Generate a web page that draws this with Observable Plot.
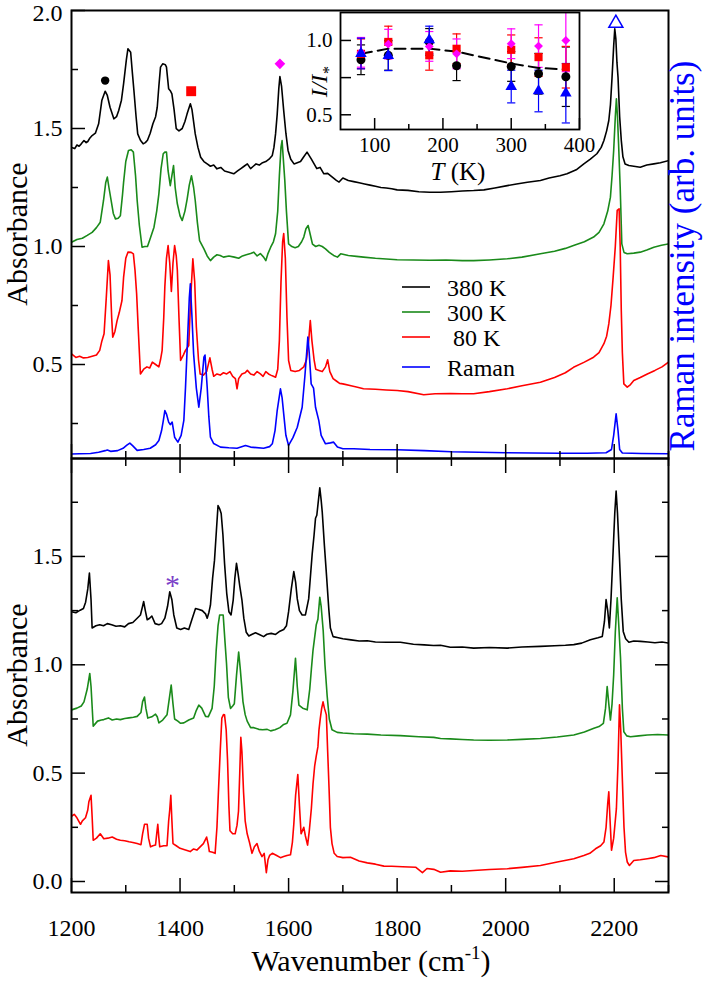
<!DOCTYPE html>
<html><head><meta charset="utf-8">
<script src="https://cdn.jsdelivr.net/npm/d3@7"></script>
<script src="https://cdn.jsdelivr.net/npm/@observablehq/plot@0.6"></script>
<style>
body{margin:0;background:#fff;}
#wrap{position:relative;width:706px;height:982px;}
</style></head><body><div id="wrap"></div>
<script>
// ---------------- DATA ----------------
const xMajor = [1200, 1400, 1600, 1800, 2000, 2200];
const xMinor = [1300, 1500, 1700, 1900, 2100, 2300];
const xLabels = [1200, 1400, 1600, 1800, 2000, 2200];
const topYMajor = [0.5, 1.0, 1.5, 2.0];
const topYLabels = [0.5, 1.0, 1.5];
const topYLabelEdge = [2.0];
const topYMinor = [0.25, 0.75, 1.25, 1.75];
const botYMajor = [0.0, 0.5, 1.0, 1.5];
const botYMinor = [0.25, 0.75, 1.25, 1.75];

// top panel: 380 K
const top380 = [[1200,1.42],[1206,1.415],[1210,1.43],[1214,1.425],[1218,1.435],[1223,1.449],[1227,1.44],[1230,1.445],[1234,1.46],[1238,1.47],[1244,1.48],[1250,1.52],[1256,1.62],[1262,1.658],[1266,1.64],[1271,1.59],[1278,1.541],[1283,1.55],[1287,1.576],[1292,1.62],[1296,1.69],[1301,1.79],[1304,1.838],[1309,1.823],[1312,1.74],[1315,1.661],[1319,1.55],[1322,1.477],[1327,1.45],[1332,1.435],[1336,1.44],[1340,1.45],[1345,1.48],[1350,1.52],[1355,1.55],[1358,1.59],[1361,1.68],[1364,1.76],[1368,1.774],[1373,1.77],[1375,1.76],[1379,1.668],[1382,1.66],[1385,1.647],[1389,1.58],[1393,1.499],[1398,1.49],[1404,1.50],[1409,1.53],[1413,1.562],[1419,1.605],[1422,1.58],[1428,1.477],[1433,1.42],[1438,1.378],[1444,1.36],[1450,1.35],[1456,1.34],[1462,1.345],[1468,1.329],[1475,1.335],[1482,1.32],[1490,1.315],[1499,1.308],[1506,1.32],[1512,1.33],[1518,1.34],[1524,1.35],[1530,1.33],[1535,1.34],[1540,1.35],[1546,1.345],[1552,1.355],[1558,1.36],[1564,1.37],[1570,1.386],[1573,1.42],[1576,1.477],[1579,1.56],[1582,1.67],[1584,1.72],[1587,1.68],[1591,1.576],[1595,1.48],[1599,1.407],[1604,1.37],[1610,1.35],[1616,1.355],[1622,1.36],[1628,1.38],[1634,1.40],[1638,1.385],[1642,1.37],[1647,1.35],[1652,1.33],[1658,1.335],[1665,1.308],[1672,1.31],[1680,1.295],[1688,1.28],[1693,1.273],[1700,1.29],[1710,1.28],[1720,1.275],[1730,1.27],[1740,1.265],[1750,1.26],[1760,1.255],[1770,1.25],[1780,1.248],[1790,1.245],[1800,1.24],[1820,1.238],[1840,1.232],[1860,1.23],[1880,1.23],[1900,1.232],[1920,1.235],[1941,1.237],[1960,1.24],[1980,1.248],[2003,1.258],[2020,1.265],[2040,1.272],[2064,1.28],[2080,1.29],[2100,1.30],[2113,1.308],[2130,1.325],[2144,1.35],[2156,1.37],[2168,1.393],[2176,1.42],[2181,1.449],[2186,1.49],[2190,1.534],[2193,1.60],[2196,1.717],[2199,1.85],[2201,1.922],[2203,1.88],[2205,1.78],[2207,1.717],[2210,1.55],[2213,1.45],[2216,1.38],[2220,1.35],[2227,1.343],[2236,1.34],[2248,1.336],[2260,1.345],[2273,1.35],[2285,1.355],[2300,1.364]];

// top panel: 300 K
const top300 = [[1200,1.018],[1210,1.03],[1220,1.035],[1229,1.047],[1238,1.06],[1246,1.08],[1253,1.103],[1259,1.195],[1263,1.27],[1266,1.294],[1269,1.25],[1273,1.195],[1277,1.14],[1281,1.117],[1286,1.12],[1290,1.13],[1294,1.22],[1296,1.273],[1300,1.36],[1305,1.407],[1310,1.41],[1314,1.40],[1318,1.30],[1321,1.195],[1325,1.09],[1330,0.997],[1335,1.0],[1340,1.0],[1346,1.04],[1352,1.082],[1357,1.15],[1361,1.223],[1365,1.33],[1369,1.393],[1372,1.40],[1375,1.40],[1378,1.32],[1382,1.258],[1385,1.30],[1388,1.343],[1391,1.25],[1395,1.181],[1400,1.13],[1404,1.11],[1409,1.15],[1413,1.20],[1417,1.26],[1421,1.30],[1425,1.25],[1428,1.195],[1432,1.10],[1436,1.025],[1444,0.99],[1450,0.96],[1456,0.94],[1462,0.955],[1468,0.965],[1474,0.962],[1480,0.955],[1490,0.96],[1500,0.955],[1508,0.95],[1515,0.96],[1522,0.965],[1530,0.97],[1536,0.976],[1542,0.96],[1548,0.97],[1554,0.955],[1558,0.94],[1562,0.97],[1567,0.997],[1572,1.02],[1576,1.054],[1580,1.15],[1583,1.30],[1586,1.42],[1588,1.449],[1590,1.38],[1593,1.28],[1596,1.15],[1600,1.011],[1606,1.0],[1612,0.995],[1618,1.0],[1624,1.02],[1628,1.04],[1632,1.075],[1636,1.089],[1640,1.05],[1644,1.01],[1650,1.0],[1656,1.005],[1662,1.0],[1668,0.99],[1675,0.975],[1683,0.962],[1690,0.955],[1696,0.969],[1710,0.962],[1725,0.958],[1738,0.955],[1760,0.95],[1780,0.947],[1800,0.944],[1830,0.943],[1860,0.942],[1890,0.943],[1920,0.94],[1941,0.94],[1970,0.943],[2003,0.948],[2030,0.955],[2064,0.969],[2090,0.98],[2110,0.992],[2125,1.004],[2145,1.02],[2162,1.04],[2172,1.06],[2181,1.096],[2188,1.15],[2193,1.209],[2196,1.30],[2199,1.407],[2202,1.55],[2204,1.626],[2206,1.55],[2208,1.435],[2211,1.25],[2214,1.011],[2218,0.975],[2224,0.969],[2236,0.972],[2248,0.976],[2260,0.985],[2273,0.997],[2287,1.005],[2300,1.011]];

// top panel: 80 K
const top80 = [[1200,0.545],[1208,0.53],[1215,0.535],[1222,0.528],[1230,0.53],[1238,0.535],[1246,0.54],[1252,0.56],[1256,0.60],[1260,0.63],[1264,0.78],[1268,0.94],[1271,0.88],[1274,0.70],[1276,0.616],[1280,0.64],[1284,0.686],[1288,0.72],[1293,0.771],[1296,0.87],[1300,0.95],[1304,0.976],[1310,0.975],[1314,0.969],[1317,0.90],[1320,0.80],[1323,0.65],[1327,0.46],[1333,0.48],[1339,0.49],[1344,0.485],[1349,0.51],[1355,0.50],[1361,0.49],[1364,0.52],[1367,0.56],[1370,0.70],[1372,0.83],[1375,0.95],[1378,1.004],[1381,0.93],[1384,0.81],[1387,0.93],[1390,1.004],[1393,0.96],[1395,0.90],[1398,0.70],[1401,0.517],[1406,0.54],[1410,0.56],[1416,0.58],[1420,0.80],[1423.6,0.948],[1427,0.85],[1430,0.66],[1434,0.52],[1437,0.46],[1443,0.455],[1449,0.47],[1455,0.528],[1459,0.48],[1462,0.45],[1468,0.46],[1474,0.455],[1480,0.465],[1486,0.46],[1492,0.47],[1497,0.45],[1502,0.44],[1505,0.397],[1508,0.44],[1514,0.46],[1520,0.465],[1524,0.475],[1530,0.46],[1536,0.455],[1542,0.47],[1548,0.46],[1553,0.45],[1558,0.47],[1563,0.46],[1567,0.455],[1572,0.45],[1576,0.446],[1580,0.48],[1583,0.60],[1586,0.85],[1589,1.02],[1591,1.055],[1594,0.95],[1597,0.70],[1600,0.517],[1604,0.475],[1612,0.47],[1620,0.475],[1628,0.49],[1633,0.52],[1637,0.60],[1640,0.686],[1643,0.60],[1647,0.52],[1650,0.48],[1656,0.475],[1662,0.47],[1668,0.49],[1672,0.52],[1676,0.47],[1682,0.44],[1688,0.43],[1694,0.42],[1700,0.418],[1715,0.41],[1725,0.405],[1738,0.397],[1760,0.395],[1780,0.392],[1800,0.39],[1820,0.385],[1849,0.372],[1870,0.376],[1898,0.377],[1920,0.376],[1941,0.376],[1970,0.385],[2003,0.397],[2030,0.41],[2064,0.425],[2090,0.445],[2110,0.465],[2125,0.488],[2145,0.51],[2162,0.531],[2172,0.55],[2181,0.588],[2186,0.62],[2190,0.672],[2194,0.75],[2198,0.87],[2202,1.0],[2205.5,1.153],[2209,1.16],[2211,1.0],[2213,0.729],[2215,0.55],[2217.7,0.418],[2224,0.404],[2230,0.415],[2236,0.432],[2248,0.445],[2261,0.46],[2275,0.475],[2288,0.49],[2300,0.51]];

// top panel: Raman
const topRaman = [[1200,0.121],[1215,0.122],[1235,0.123],[1250,0.128],[1262,0.135],[1266,0.138],[1272,0.132],[1285,0.135],[1295,0.145],[1302,0.158],[1307.5,0.167],[1313,0.155],[1321,0.136],[1333,0.14],[1345,0.145],[1355,0.16],[1361,0.178],[1366,0.22],[1369,0.26],[1372,0.305],[1375,0.29],[1379,0.256],[1382,0.245],[1385.5,0.256],[1390,0.192],[1396,0.171],[1402,0.20],[1407,0.263],[1410,0.40],[1414,0.616],[1417,0.78],[1419,0.842],[1422,0.70],[1425,0.545],[1430,0.40],[1434.6,0.319],[1439,0.40],[1444,0.531],[1446,0.54],[1450,0.404],[1453,0.28],[1456,0.192],[1462,0.165],[1474.5,0.15],[1490,0.147],[1505,0.145],[1520.6,0.157],[1530,0.15],[1554,0.145],[1565,0.152],[1570,0.164],[1575,0.22],[1579,0.305],[1585,0.397],[1588,0.36],[1591,0.291],[1595,0.20],[1600,0.157],[1608,0.19],[1616,0.234],[1625,0.319],[1630,0.45],[1635.5,0.616],[1638,0.55],[1641.6,0.418],[1646,0.40],[1649.6,0.319],[1655.6,0.263],[1660,0.20],[1668,0.164],[1677,0.168],[1683,0.171],[1690,0.15],[1700,0.143],[1720,0.143],[1750,0.14],[1800,0.139],[1850,0.135],[1900,0.13],[1950,0.128],[2000,0.126],[2050,0.125],[2100,0.124],[2150,0.124],[2185,0.126],[2195,0.14],[2199,0.2],[2203.5,0.291],[2207,0.22],[2210,0.14],[2215,0.125],[2250,0.123],[2300,0.122]];

// bottom panel: 380 K
const bot380 = [[1200,1.245],[1208,1.24],[1216,1.252],[1222,1.26],[1226,1.289],[1230,1.35],[1233,1.423],[1236,1.30],[1238,1.17],[1245,1.18],[1252,1.185],[1259,1.18],[1266,1.19],[1274,1.185],[1282,1.178],[1290,1.18],[1298,1.175],[1305,1.19],[1313,1.195],[1321,1.215],[1327,1.23],[1331,1.27],[1333,1.292],[1336,1.25],[1339.5,1.208],[1344,1.215],[1348,1.225],[1354,1.19],[1361,1.185],[1366,1.19],[1372,1.215],[1377,1.27],[1381,1.337],[1385,1.30],[1388.5,1.23],[1394,1.17],[1401,1.163],[1408,1.17],[1416,1.163],[1422,1.21],[1428.5,1.26],[1435,1.255],[1441,1.25],[1447,1.235],[1450,1.215],[1453,1.24],[1456,1.275],[1460,1.40],[1463.5,1.483],[1467,1.62],[1470,1.735],[1473,1.72],[1475.8,1.698],[1479,1.60],[1482,1.468],[1486,1.33],[1490,1.245],[1494,1.23],[1498,1.30],[1501,1.40],[1504,1.468],[1507,1.42],[1510,1.364],[1514,1.30],[1517.5,1.215],[1522,1.15],[1526.7,1.133],[1532,1.14],[1539,1.148],[1546,1.14],[1554,1.13],[1560,1.141],[1568,1.145],[1576,1.14],[1584,1.155],[1591,1.163],[1596,1.18],[1600,1.245],[1605,1.35],[1609.6,1.43],[1613,1.38],[1616,1.304],[1620,1.25],[1625,1.23],[1631,1.23],[1637,1.304],[1640,1.40],[1643.5,1.512],[1647,1.60],[1649.6,1.676],[1652,1.69],[1655,1.76],[1657.5,1.817],[1660,1.76],[1662,1.705],[1666,1.55],[1670,1.408],[1674,1.26],[1677,1.17],[1682,1.13],[1689.6,1.126],[1700,1.12],[1715,1.115],[1730,1.11],[1745,1.111],[1760,1.105],[1780,1.104],[1806,1.104],[1830,1.095],[1850,1.092],[1867,1.089],[1880,1.09],[1898,1.081],[1920,1.082],[1941,1.077],[1970,1.08],[2003,1.077],[2030,1.082],[2064,1.085],[2090,1.088],[2110,1.09],[2125.5,1.093],[2140,1.10],[2156,1.116],[2170,1.125],[2178,1.131],[2182,1.2],[2185,1.301],[2188,1.25],[2191,1.17],[2194,1.30],[2198,1.525],[2201,1.70],[2203.5,1.802],[2206,1.70],[2209.7,1.494],[2213,1.30],[2216.6,1.154],[2221,1.12],[2227,1.104],[2236,1.11],[2248.5,1.108],[2262,1.105],[2275,1.102],[2288,1.105],[2300,1.10]];

// bottom panel: 300 K
const bot300 = [[1200,0.792],[1210,0.80],[1218,0.81],[1223,0.829],[1229,0.888],[1233.7,0.96],[1236,0.90],[1240,0.717],[1248,0.74],[1255,0.745],[1259.5,0.747],[1268,0.755],[1275,0.745],[1283,0.75],[1290,0.747],[1298,0.752],[1306,0.755],[1314,0.758],[1321,0.762],[1328,0.78],[1331,0.83],[1334.5,0.851],[1337,0.80],[1340.6,0.754],[1348,0.76],[1354.8,0.772],[1358,0.76],[1361,0.732],[1368,0.745],[1376,0.769],[1380,0.84],[1383.7,0.906],[1387,0.82],[1390,0.75],[1396,0.74],[1401,0.73],[1407,0.732],[1416,0.745],[1425,0.754],[1430,0.79],[1434.6,0.814],[1440,0.80],[1447,0.762],[1452,0.76],[1459,0.799],[1463,0.90],[1466.6,1.067],[1470,1.18],[1473,1.23],[1479.5,1.23],[1483,1.10],[1485.6,1.007],[1489,0.85],[1493,0.799],[1497,0.81],[1500,0.82],[1504,0.95],[1508,1.059],[1511,0.98],[1516,0.829],[1520,0.77],[1523.7,0.74],[1530,0.71],[1536,0.71],[1545,0.702],[1552,0.70],[1560.6,0.702],[1567,0.695],[1575,0.70],[1584,0.71],[1591,0.725],[1597,0.73],[1603.5,0.769],[1608,0.88],[1612.7,1.03],[1616,0.90],[1619,0.814],[1626,0.80],[1634.3,0.792],[1639,0.888],[1642,0.98],[1645,1.067],[1651,1.185],[1654,1.21],[1657.5,1.312],[1660,1.27],[1663.8,1.156],[1667,1.00],[1671,0.858],[1675,0.75],[1680,0.70],[1689.6,0.688],[1700,0.685],[1720,0.682],[1745,0.68],[1770,0.676],[1806,0.673],[1840,0.668],[1867.5,0.665],[1880,0.66],[1898,0.658],[1920,0.655],[1941,0.653],[1970,0.652],[2003,0.653],[2030,0.656],[2064,0.66],[2095,0.667],[2125.5,0.676],[2145,0.69],[2162.5,0.707],[2172,0.715],[2180,0.73],[2184,0.80],[2187,0.90],[2190,0.82],[2193,0.745],[2196,0.82],[2199,0.954],[2202,1.15],[2205.5,1.309],[2208,1.20],[2211.6,1.031],[2215,0.80],[2217.7,0.691],[2223,0.672],[2230,0.668],[2245,0.672],[2261,0.676],[2280,0.678],[2300,0.676]];

// bottom panel: 80 K
const bot80 = [[1200,0.301],[1205,0.31],[1210,0.294],[1216.6,0.264],[1220,0.28],[1225.8,0.294],[1230,0.33],[1232,0.368],[1236,0.398],[1238,0.30],[1240,0.19],[1246,0.2],[1253,0.22],[1259.5,0.197],[1267,0.2],[1275,0.205],[1283,0.195],[1290,0.19],[1298,0.188],[1306,0.183],[1313,0.18],[1321,0.175],[1328,0.17],[1331,0.22],[1334.5,0.264],[1339.5,0.264],[1342,0.20],[1345.6,0.16],[1350,0.165],[1354.8,0.168],[1357,0.22],[1359,0.264],[1361,0.2],[1362.6,0.16],[1370,0.165],[1376,0.165],[1379,0.279],[1381,0.33],[1383,0.398],[1385,0.28],[1387,0.175],[1393,0.165],[1400,0.153],[1410,0.145],[1418.7,0.138],[1425,0.15],[1431,0.145],[1437,0.16],[1443,0.175],[1449,0.205],[1452,0.17],[1454,0.138],[1460,0.135],[1464.6,0.13],[1468,0.25],[1470.7,0.413],[1474,0.60],[1477,0.754],[1480,0.77],[1482,0.769],[1485,0.70],[1487.5,0.561],[1490,0.35],[1492,0.234],[1497,0.22],[1501.5,0.22],[1505,0.26],[1507.7,0.324],[1510,0.50],[1512,0.665],[1514,0.6],[1517,0.413],[1520,0.28],[1523.7,0.22],[1528,0.18],[1532.6,0.13],[1537,0.16],[1541.8,0.175],[1546,0.14],[1551,0.115],[1555,0.13],[1559,0.041],[1562,0.1],[1565,0.12],[1570,0.13],[1578,0.12],[1585,0.11],[1591,0.115],[1597,0.12],[1603.5,0.123],[1607,0.18],[1609.6,0.264],[1613,0.40],[1617,0.494],[1620,0.35],[1623,0.22],[1628,0.25],[1631,0.21],[1635,0.168],[1638,0.23],[1642,0.338],[1645,0.45],[1648,0.532],[1651,0.58],[1654,0.621],[1656,0.70],[1658.5,0.754],[1661,0.80],[1663.5,0.829],[1666,0.80],[1669.6,0.769],[1672,0.60],[1674.6,0.427],[1677,0.25],[1680,0.175],[1684,0.13],[1689.6,0.115],[1700,0.11],[1714,0.112],[1730,0.095],[1745,0.086],[1760,0.08],[1775.6,0.071],[1790,0.07],[1810,0.068],[1834,0.066],[1846.6,0.041],[1855,0.06],[1867.5,0.056],[1880,0.043],[1898,0.049],[1920,0.047],[1941,0.051],[1970,0.055],[2003,0.059],[2030,0.065],[2064,0.074],[2095,0.09],[2125.5,0.105],[2144,0.12],[2155,0.13],[2165.5,0.151],[2175,0.165],[2181,0.182],[2185,0.25],[2188,0.36],[2190,0.414],[2192,0.30],[2195,0.144],[2199,0.2],[2204,0.336],[2207,0.55],[2209.7,0.815],[2212,0.7],[2214.7,0.491],[2218,0.25],[2220.8,0.136],[2224,0.09],[2228,0.074],[2236,0.097],[2248,0.10],[2261,0.105],[2273,0.11],[2285.7,0.12],[2300,0.113]];

// peak markers
const markCircle = [[1262, 1.703]];
const markSquare = [[1420.5, 1.658]];
const markDiamond = [[1584, 1.774]];
const markTriangle = [[2203, 1.946]];
const markAsterisk = [[1386, 1.403]];

// inset I/I* vs T
const insetT = [80, 120, 180, 220, 300, 340, 380];
const ratioBlack = [0.87, 0.90, 0.99, 0.83, 0.825, 0.776, 0.756];
const errBlack = [0.10, 0.10, 0.09, 0.10, 0.10, 0.137, 0.20];
const ratioRed = [0.91, 0.99, 0.90, 0.944, 0.937, 0.888, 0.82];
const errRed = [0.10, 0.106, 0.10, 0.10, 0.10, 0.13, 0.14];
const ratioMagenta = [0.92, 0.975, 0.96, 0.91, 0.978, 0.962, 1.0];
const errMagenta = [0.10, 0.10, 0.10, 0.10, 0.10, 0.143, 0.21];
const insetTBlue = [80, 120, 180, 300, 340, 380];
const ratioBlue = [0.912, 0.897, 1.003, 0.69, 0.66, 0.645];
const errBlue = [0.103, 0.10, 0.093, 0.11, 0.14, 0.20];
const fitT = [80, 120, 180, 220, 300, 340, 380];
const fitRatio = [0.91, 0.945, 0.945, 0.925, 0.845, 0.815, 0.805];
const insetXMajor = [100, 200, 300, 400];
const insetXMinor = [150, 250, 350];
const insetYMajor = [0.5, 1.0];
const insetYMinor = [0.75];

const legendItems = [
  {label: "380 K", color: "black"},
  {label: "300 K", color: "#1a8a1a"},
  {label: " 80 K", color: "red"},
  {label: "Raman", color: "blue"}
];

// ---------------- RENDER ----------------
const FONT = "Liberation Serif";
const GREEN = "#1a8a1a";
const wrap = document.getElementById("wrap");
function place(node, left, top) {
  node.style.position = "absolute";
  node.style.left = left + "px";
  node.style.top = top + "px";
  wrap.appendChild(node);
}
const baseStyle = {fontFamily: FONT, fontSize: "24px", background: "transparent", overflow: "visible"};
const blank = () => "";
const P = d => d[0], V = d => d[1];

function tickAxes(anchorY, anchorX, yMajor, yMinor) {
  const m = [];
  for (const a of anchorY) {
    m.push(Plot.axisY(yMajor, {anchor: a, tickSize: -14, tickFormat: blank, label: null, strokeWidth: 1.5}));
    m.push(Plot.axisY(yMinor, {anchor: a, tickSize: -7, tickFormat: blank, label: null, strokeWidth: 1.5}));
  }
  for (const a of anchorX) {
    m.push(Plot.axisX(xMajor, {anchor: a, tickSize: -14, tickFormat: blank, label: null, strokeWidth: 1.5}));
    m.push(Plot.axisX(xMinor, {anchor: a, tickSize: -7, tickFormat: blank, label: null, strokeWidth: 1.5}));
  }
  return m;
}

const topPlot = Plot.plot({
  width: 706, height: 458,
  marginLeft: 71, marginRight: 38, marginTop: 10, marginBottom: 0,
  style: baseStyle,
  x: {domain: [1200, 2300]},
  y: {domain: [0.1017, 2.0]},
  marks: [
    Plot.line(top380, {x: P, y: V, stroke: "black", strokeWidth: 1.6, clip: true}),
    Plot.line(top300, {x: P, y: V, stroke: GREEN, strokeWidth: 1.6, clip: true}),
    Plot.line(top80, {x: P, y: V, stroke: "red", strokeWidth: 1.6, clip: true}),
    Plot.line(topRaman, {x: P, y: V, stroke: "blue", strokeWidth: 1.6, clip: true}),
    Plot.axisY(topYLabels, {anchor: "left", tickSize: 0, tickPadding: 9, tickFormat: d3.format(".1f"), label: null, fontFamily: FONT, fontSize: 24}),
    Plot.axisY(topYLabelEdge, {anchor: "left", tickSize: 0, tickPadding: 9, tickFormat: d3.format(".1f"), label: null, fontFamily: FONT, fontSize: 24, dy: 3}),
    ...tickAxes(["left"], ["bottom"], topYMajor, topYMinor),
    Plot.frame({stroke: "black", strokeWidth: 2}),
    Plot.dot(markCircle, {x: P, y: V, r: 4.2, fill: "black", symbol: "circle"}),
    Plot.dot(markSquare, {x: P, y: V, r: 5.6, fill: "red", symbol: "square"}),
    Plot.dot(markDiamond, {x: P, y: V, r: 4.8, fill: "magenta", symbol: "diamond2"}),
    Plot.dot(markTriangle, {x: P, y: V, r: 5.2, fill: "white", stroke: "blue", strokeWidth: 1.5, symbol: "triangle"})
  ]
});
place(topPlot, 0, 0);

const botPlot = Plot.plot({
  width: 706, height: 524,
  marginLeft: 71, marginRight: 38, marginTop: 0, marginBottom: 90,
  style: baseStyle,
  x: {domain: [1200, 2300]},
  y: {domain: [-0.0508, 1.952]},
  marks: [
    Plot.line(bot380, {x: P, y: V, stroke: "black", strokeWidth: 1.6, clip: true}),
    Plot.line(bot300, {x: P, y: V, stroke: GREEN, strokeWidth: 1.6, clip: true}),
    Plot.line(bot80, {x: P, y: V, stroke: "red", strokeWidth: 1.6, clip: true}),
    Plot.axisY(botYMajor, {anchor: "left", tickSize: 0, tickPadding: 9, tickFormat: d3.format(".1f"), label: null, fontFamily: FONT, fontSize: 24}),
    Plot.axisX(xLabels, {anchor: "bottom", tickSize: 0, tickPadding: 26, tickFormat: d3.format("d"), label: null, fontFamily: FONT, fontSize: 24}),
    ...tickAxes(["left", "right"], ["bottom", "top"], botYMajor, botYMinor),
    Plot.frame({stroke: "black", strokeWidth: 2}),
    Plot.text(markAsterisk, {x: P, y: V, text: () => "*", fill: "#7b3fc8", fontSize: 30, fontFamily: FONT, dy: 8})
  ]
});
place(botPlot, 0, 458);

// inset
const rows = (T, R, E) => T.map((t, i) => ({t, v: R[i], e: E[i]}));
const sBlack = rows(insetT, ratioBlack, errBlack);
const sRed = rows(insetT, ratioRed, errRed);
const sMag = rows(insetT, ratioMagenta, errMagenta);
const sBlue = rows(insetTBlue, ratioBlue, errBlue);
const fit = fitT.map((t, i) => [t, fitRatio[i]]);
const CAP = 6;
function errMarks(s, color) {
  return [
    Plot.ruleX(s, {x: "t", y1: d => d.v - d.e, y2: d => d.v + d.e, stroke: color, strokeWidth: 1.2, clip: true}),
    Plot.link(s, {x1: d => d.t - CAP, x2: d => d.t + CAP, y1: d => d.v + d.e, y2: d => d.v + d.e, stroke: color, strokeWidth: 1.2, clip: true}),
    Plot.link(s, {x1: d => d.t - CAP, x2: d => d.t + CAP, y1: d => d.v - d.e, y2: d => d.v - d.e, stroke: color, strokeWidth: 1.2, clip: true})
  ];
}
const insetPlot = Plot.plot({
  width: 300, height: 190,
  marginLeft: 50, marginRight: 11, marginTop: 12, marginBottom: 61,
  style: {...baseStyle, fontSize: "21px"},
  x: {domain: [50, 400]},
  y: {domain: [0.401, 1.188]},
  marks: [
    Plot.frame({fill: "white"}),
    ...errMarks(sBlack, "black"),
    ...errMarks(sRed, "red"),
    ...errMarks(sMag, "magenta"),
    ...errMarks(sBlue, "blue"),
    Plot.line(fit, {x: P, y: V, stroke: "black", strokeWidth: 2, strokeDasharray: "11,6"}),
    Plot.dot(sBlack, {x: "t", y: "v", r: 4.5, fill: "black", symbol: "circle"}),
    Plot.dot(sRed, {x: "t", y: "v", r: 4.6, fill: "red", symbol: "square"}),
    Plot.dot(sMag, {x: "t", y: "v", r: 4.0, fill: "magenta", symbol: "diamond2"}),
    Plot.dot(sBlue, {x: "t", y: "v", r: 4.3, fill: "blue", symbol: "triangle"}),
    Plot.axisX(insetXMajor, {anchor: "bottom", tickSize: 0, tickPadding: 8, tickFormat: d3.format("d"), label: null, fontFamily: FONT, fontSize: 21}),
    Plot.axisY(insetYMajor, {anchor: "left", tickSize: 0, tickPadding: 8, tickFormat: d3.format(".1f"), label: null, fontFamily: FONT, fontSize: 21}),
    Plot.axisX(insetXMajor, {anchor: "bottom", tickSize: -11, tickFormat: blank, label: null, strokeWidth: 1.5}),
    Plot.axisX(insetXMinor, {anchor: "bottom", tickSize: -5, tickFormat: blank, label: null, strokeWidth: 1.5}),
    Plot.axisY(insetYMajor, {anchor: "left", tickSize: -11, tickFormat: blank, label: null, strokeWidth: 1.5}),
    Plot.axisY(insetYMinor, {anchor: "left", tickSize: -11, tickFormat: blank, label: null, strokeWidth: 1.5}),
    Plot.frame({stroke: "black", strokeWidth: 1.8})
  ]
});
place(insetPlot, 290, 0);

// overlay: axis titles, legend, inset titles
const ov = d3.create("svg").attr("width", 706).attr("height", 982)
  .style("overflow", "visible").style("pointer-events", "none");
place(ov.node(), 0, 0);

ov.append("text").attr("transform", "translate(27,234) rotate(-90)").attr("text-anchor", "middle")
  .attr("font-size", 30).text("Absorbance");
ov.append("text").attr("transform", "translate(27,675) rotate(-90)").attr("text-anchor", "middle")
  .attr("font-size", 30).text("Absorbance");
ov.append("text").attr("transform", "translate(694,256) rotate(-90)").attr("text-anchor", "middle")
  .attr("font-size", 35).attr("fill", "blue").text("Raman intensity (arb. units)");
const wl = ov.append("text").attr("x", 371).attr("y", 971).attr("text-anchor", "middle").attr("font-size", 30);
wl.append("tspan").text("Wavenumber (cm");
wl.append("tspan").attr("dy", -12).attr("font-size", 19).text("-1");
wl.append("tspan").attr("dy", 12).text(")");

const tk = ov.append("text").attr("x", 458).attr("y", 180).attr("text-anchor", "middle").attr("font-size", 25);
tk.append("tspan").attr("font-style", "italic").text("T");
tk.append("tspan").text(" (K)");
const ii = ov.append("text").attr("transform", "translate(327,82) rotate(-90)").attr("text-anchor", "middle").attr("font-size", 24);
ii.append("tspan").attr("font-style", "italic").text("I/I");
ii.append("tspan").attr("font-style", "italic").attr("font-size", 16).attr("dy", 7).text("*");

const legendY = [287, 312, 337, 367];
legendItems.forEach((it, i) => {
  ov.append("line").attr("x1", 402).attr("x2", 430).attr("y1", legendY[i]).attr("y2", legendY[i])
    .attr("stroke", it.color).attr("stroke-width", 1.6);
  ov.append("text").attr("x", 447).attr("y", legendY[i] + 9).attr("font-size", 24)
    .style("white-space", "pre").text(it.label);
});

// make sure every text uses the serif face
d3.selectAll("#wrap svg").attr("font-family", FONT).style("font-family", FONT);
d3.selectAll("#wrap text, #wrap tspan").attr("font-family", FONT).style("font-family", FONT);
</script>
</body></html>
